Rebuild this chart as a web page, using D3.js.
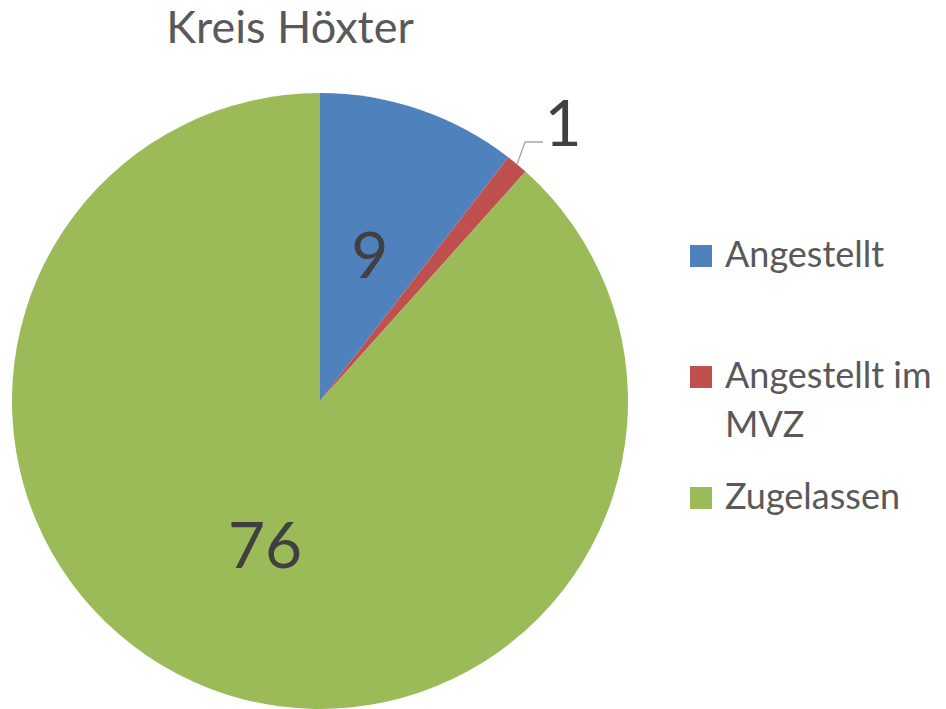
<!DOCTYPE html>
<html><head><meta charset="utf-8">
<script src="https://cdn.jsdelivr.net/npm/d3@7"></script>
<style>body{margin:0;background:#fff}svg{display:block}text{font-family:Lato,"Open Sans",sans-serif}</style>
</head><body>
<svg id="c" width="946" height="709"></svg>
<script>
const title = "Kreis Höxter";
const categories = ["Angestellt", "Angestellt im MVZ", "Zugelassen"];
const values = [9, 1, 76];
const colors = ["#4F81BD", "#C0504D", "#9BBB59"];

const svg = d3.select("#c");
const cx = 320, cy = 401, r = 308;

svg.append("text").attr("x", 290).attr("y", 43).attr("text-anchor", "middle")
  .attr("fill", "#595959").attr("font-size", 45).text(title);

const data = categories.map((c, i) => ({c, v: values[i], col: colors[i]}));
const pie = d3.pie().value(d => d.v).sort(null);
const arcs = pie(data);
const arc = d3.arc().innerRadius(0).outerRadius(r);
const g = svg.append("g").attr("transform", `translate(${cx},${cy})`);
g.selectAll("path").data(arcs).join("path").attr("d", arc).attr("fill", d => d.data.col);

const labelArc = d3.arc().innerRadius(r * 0.5).outerRadius(r * 0.5);
arcs.forEach((a, i) => {
  if (i === 1) {
    const mid = (a.startAngle + a.endAngle) / 2;
    const p0 = [Math.sin(mid) * r, -Math.cos(mid) * r];
    const px = 525 - cx, py = 142 - cy;
    g.append("path").attr("d", `M${p0[0]},${p0[1]}L${px},${py}L${543 - cx},${py}`)
      .attr("fill", "none").attr("stroke", "#A6A6A6").attr("stroke-width", 1.3);
    g.append("text").attr("x", 563 - cx).attr("y", 146 - cy).attr("text-anchor", "middle")
      .attr("fill", "#404040").attr("font-size", 64).text(a.data.v);
  } else {
    const [x, y] = labelArc.centroid(a);
    g.append("text").attr("x", x).attr("y", y + 23).attr("text-anchor", "middle")
      .attr("fill", "#404040").attr("font-size", 64).text(a.data.v);
  }
});

const legend = [
  {lines: ["Angestellt"], sq: 245},
  {lines: ["Angestellt im", "MVZ"], sq: 366},
  {lines: ["Zugelassen"], sq: 487}
];
legend.forEach((l, i) => {
  svg.append("rect").attr("x", 690).attr("y", l.sq).attr("width", 22).attr("height", 22).attr("fill", colors[i]);
  l.lines.forEach((t, j) => {
    svg.append("text").attr("x", 725).attr("y", l.sq + 22 + j * 49).attr("fill", "#595959")
      .attr("font-size", 36).text(t);
  });
});
</script>
</body></html>
